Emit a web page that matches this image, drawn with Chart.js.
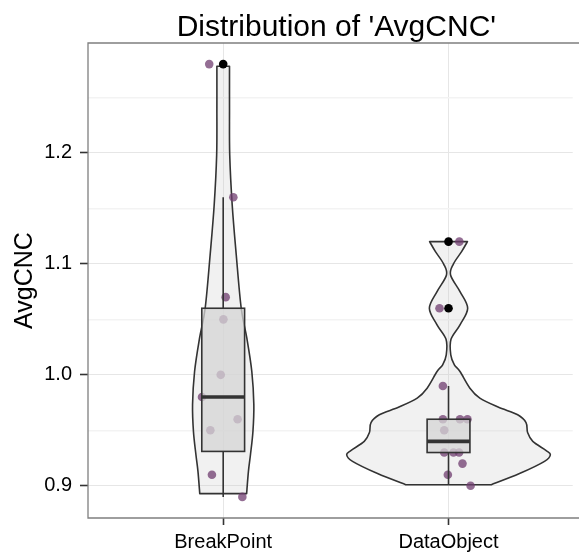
<!DOCTYPE html>
<html>
<head>
<meta charset="utf-8">
<script src="https://cdn.jsdelivr.net/npm/chart.js@4.4.1/dist/chart.umd.min.js"></script>
<style>
  html, body { margin: 0; padding: 0; background: #fff; overflow: hidden; }
  canvas { display: block; }
</style>
</head>
<body>
<canvas id="grafico" width="579" height="555"></canvas>
<script>
// Categorias e ticks
const categorias = ['BreakPoint', 'DataObject'];
const posicoes = [1, 2];
const yMaiores = [0.9, 1.0, 1.1, 1.2];
const yMenores = [0.95, 1.05, 1.15, 1.25];

// Pontos (jitter) de cada grupo
const bpValores = [1.28, 1.16, 1.07, 1.05, 1.00, 0.98, 0.96, 0.95, 0.91, 0.89];
const bpJitter = [-0.062, 0.045, 0.011, 0.001, -0.011, -0.094, 0.064, -0.057, -0.050, 0.085];
const doValores = [1.12, 1.06, 0.99, 0.96, 0.96, 0.96, 0.95, 0.93, 0.93, 0.93, 0.92, 0.91, 0.90];
const doJitter = [0.048, -0.040, -0.025, -0.025, 0.051, 0.084, -0.019, -0.019, 0.022, 0.047, 0.062, -0.003, 0.098];

// Estatisticas do boxplot (BreakPoint, DataObject)
const boxQ1 = [0.931, 0.930];
const boxMediana = [0.980, 0.940];
const boxQ3 = [1.060, 0.960];
const bigodeMin = [0.890, 0.901];
const bigodeMax = [1.160, 0.990];

// Outliers
const outlierGrupo = [1, 2, 2];
const outlierValor = [1.28, 1.12, 1.06];

// Contorno dos violinos (valor, meia largura)
const violinBpY = [1.278, 1.24, 1.198, 1.153, 1.108, 1.060, 1.033, 1.003, 0.973, 0.949, 0.928, 0.913, 0.893];
const violinBpLargura = [0.028, 0.028, 0.029, 0.040, 0.058, 0.080, 0.105, 0.127, 0.136, 0.132, 0.121, 0.112, 0.104];
const violinDoY = [1.120, 1.111, 1.100, 1.090, 1.075, 1.060, 1.045, 1.032, 1.018, 1.009, 1.003, 0.988, 0.979, 0.971, 0.964, 0.957, 0.948, 0.940, 0.932, 0.928, 0.922, 0.911, 0.901];
const violinDoLargura = [0.084, 0.058, 0.022, 0.009, 0.051, 0.085, 0.051, 0.011, 0.010, 0.026, 0.051, 0.095, 0.139, 0.220, 0.307, 0.344, 0.351, 0.374, 0.432, 0.452, 0.426, 0.315, 0.190];

const fonte = '"Liberation Sans", Arial, Helvetica, sans-serif';
Chart.defaults.font.family = fonte;
Chart.defaults.color = '#000';

const violinos = [
    { centro: posicoes[0], ys: violinBpY, larguras: violinBpLargura },
    { centro: posicoes[1], ys: violinDoY, larguras: violinDoLargura }
];

// curva suave (catmull-rom) passando pelos pontos
function curva(ctx, pts) {
    for (let i = 0; i < pts.length - 1; i++) {
        const p0 = pts[i - 1] || pts[i];
        const p1 = pts[i];
        const p2 = pts[i + 1];
        const p3 = pts[i + 2] || p2;
        const t = 1 / 6;
        ctx.bezierCurveTo(
            p1.x + (p2.x - p0.x) * t, p1.y + (p2.y - p0.y) * t,
            p2.x - (p3.x - p1.x) * t, p2.y - (p3.y - p1.y) * t,
            p2.x, p2.y
        );
    }
}

const pluginViolino = {
    id: 'violino',
    // o painel original continua alem da imagem: centraliza o titulo nele
    afterLayout(chart) {
        if (chart.titleBlock) chart.titleBlock.right += 10;
    },
    beforeDatasetsDraw(chart) {
        const { ctx, scales: { x, y } } = chart;
        violinos.forEach(v => {
            const dir = v.ys.map((val, i) => ({ x: x.getPixelForValue(v.centro + v.larguras[i]), y: y.getPixelForValue(val) }));
            const esq = v.ys.map((val, i) => ({ x: x.getPixelForValue(v.centro - v.larguras[i]), y: y.getPixelForValue(val) })).reverse();
            ctx.save();
            ctx.beginPath();
            ctx.moveTo(esq[esq.length - 1].x, esq[esq.length - 1].y);
            ctx.lineTo(dir[0].x, dir[0].y);
            curva(ctx, dir);
            ctx.lineTo(esq[0].x, esq[0].y);
            curva(ctx, esq);
            ctx.closePath();
            ctx.fillStyle = 'rgba(200, 200, 200, 0.25)';
            ctx.fill();
            ctx.lineWidth = 1.6;
            ctx.strokeStyle = '#333333';
            ctx.lineJoin = 'round';
            ctx.stroke();
            ctx.restore();
        });
    },
    // boxplot desenhado logo depois dos pontos do jitter
    afterDatasetDraw(chart, args) {
        if (args.index !== 1) return;
        const { ctx, scales: { x, y } } = chart;
        const meia = 0.095;
        posicoes.forEach((p, i) => {
            const x0 = x.getPixelForValue(p - meia);
            const x1 = x.getPixelForValue(p + meia);
            const xc = x.getPixelForValue(p);
            const yq1 = y.getPixelForValue(boxQ1[i]);
            const yq3 = y.getPixelForValue(boxQ3[i]);
            const ymed = y.getPixelForValue(boxMediana[i]);
            ctx.save();
            ctx.strokeStyle = '#333333';
            ctx.lineWidth = 1.6;
            ctx.beginPath();
            ctx.moveTo(xc, yq3);
            ctx.lineTo(xc, y.getPixelForValue(bigodeMax[i]));
            ctx.moveTo(xc, yq1);
            ctx.lineTo(xc, y.getPixelForValue(bigodeMin[i]));
            ctx.stroke();
            ctx.fillStyle = 'rgba(213, 213, 213, 0.75)';
            ctx.fillRect(x0, yq3, x1 - x0, yq1 - yq3);
            ctx.strokeRect(x0, yq3, x1 - x0, yq1 - yq3);
            ctx.lineWidth = 3.6;
            ctx.beginPath();
            ctx.moveTo(x0, ymed);
            ctx.lineTo(x1, ymed);
            ctx.stroke();
            ctx.restore();
        });
    },
    // borda do painel (o lado direito fica fora da imagem)
    afterDraw(chart) {
        const { ctx, chartArea: a } = chart;
        ctx.save();
        // limpa qualquer linha na borda direita
        ctx.fillStyle = '#fff';
        ctx.fillRect(a.right - 2, a.top + 1, 10, a.bottom - a.top - 2);
        ctx.strokeStyle = '#7f7f7f';
        ctx.lineWidth = 1.3;
        ctx.beginPath();
        ctx.moveTo(a.right + 5, a.top);
        ctx.lineTo(a.left, a.top);
        ctx.lineTo(a.left, a.bottom);
        ctx.lineTo(a.right + 5, a.bottom);
        ctx.stroke();
        ctx.restore();
    }
};

const pontosJitter = bpValores.map((v, i) => ({ x: posicoes[0] + bpJitter[i], y: v }))
    .concat(doValores.map((v, i) => ({ x: posicoes[1] + doJitter[i], y: v })));
const pontosOutlier = outlierValor.map((v, i) => ({ x: outlierGrupo[i], y: v }));
const todosY = yMaiores.concat(yMenores).sort((a, b) => a - b);

const ctx = document.getElementById('grafico').getContext('2d');
new Chart(ctx, {
    type: 'scatter',
    data: {
        datasets: [
            {
                label: 'outliers',
                data: pontosOutlier,
                pointRadius: 4.3,
                pointBackgroundColor: '#000',
                pointBorderWidth: 0
            },
            {
                label: 'AvgCNC',
                data: pontosJitter,
                pointRadius: 4.3,
                pointBackgroundColor: 'rgba(112, 62, 112, 0.75)',
                pointBorderWidth: 0
            }
        ]
    },
    options: {
        responsive: false,
        animation: false,
        layout: { padding: 0 },
        plugins: {
            legend: { display: false },
            tooltip: { enabled: false },
            title: {
                display: true,
                text: "Distribution of 'AvgCNC'",
                fullSize: false,
                color: '#000',
                font: { size: 30, weight: 'normal', lineHeight: 1.0 },
                padding: { top: 12.5, bottom: 0.5 }
            }
        },
        scales: {
            x: {
                type: 'linear',
                min: 0.4,
                max: 2.56,
                afterBuildTicks: s => { s.ticks = posicoes.map(v => ({ value: v })); },
                afterFit: s => { s.height = 37; },
                ticks: {
                    callback: v => categorias[posicoes.indexOf(v)] || '',
                    font: { size: 20 },
                    color: '#000',
                    padding: 5,
                    autoSkip: false,
                    maxRotation: 0
                },
                grid: { color: '#e6e6e6', lineWidth: 1, tickColor: '#333', tickLength: 7, tickWidth: 1.6 },
                border: { display: false }
            },
            y: {
                type: 'linear',
                min: 0.871,
                max: 1.299,
                afterBuildTicks: s => { s.ticks = todosY.map(v => ({ value: v })); },
                afterFit: s => { s.width = 88; },
                ticks: {
                    callback: v => yMaiores.includes(v) ? v.toFixed(1) : '',
                    font: { size: 20 },
                    color: '#000',
                    padding: 8,
                    autoSkip: false
                },
                grid: {
                    color: c => yMaiores.includes(c.tick.value) ? '#e6e6e6' : '#f3f3f3',
                    lineWidth: c => yMaiores.includes(c.tick.value) ? 1 : 1.5,
                    tickColor: c => yMaiores.includes(c.tick.value) ? '#333' : 'rgba(0,0,0,0)',
                    tickLength: 8,
                    tickWidth: 1.6
                },
                border: { display: false },
                title: {
                    display: true,
                    text: 'AvgCNC',
                    color: '#000',
                    font: { size: 25, lineHeight: 1.2 },
                    padding: { top: 10, bottom: 0 }
                }
            }
        }
    },
    plugins: [pluginViolino]
});
</script>
</body>
</html>
